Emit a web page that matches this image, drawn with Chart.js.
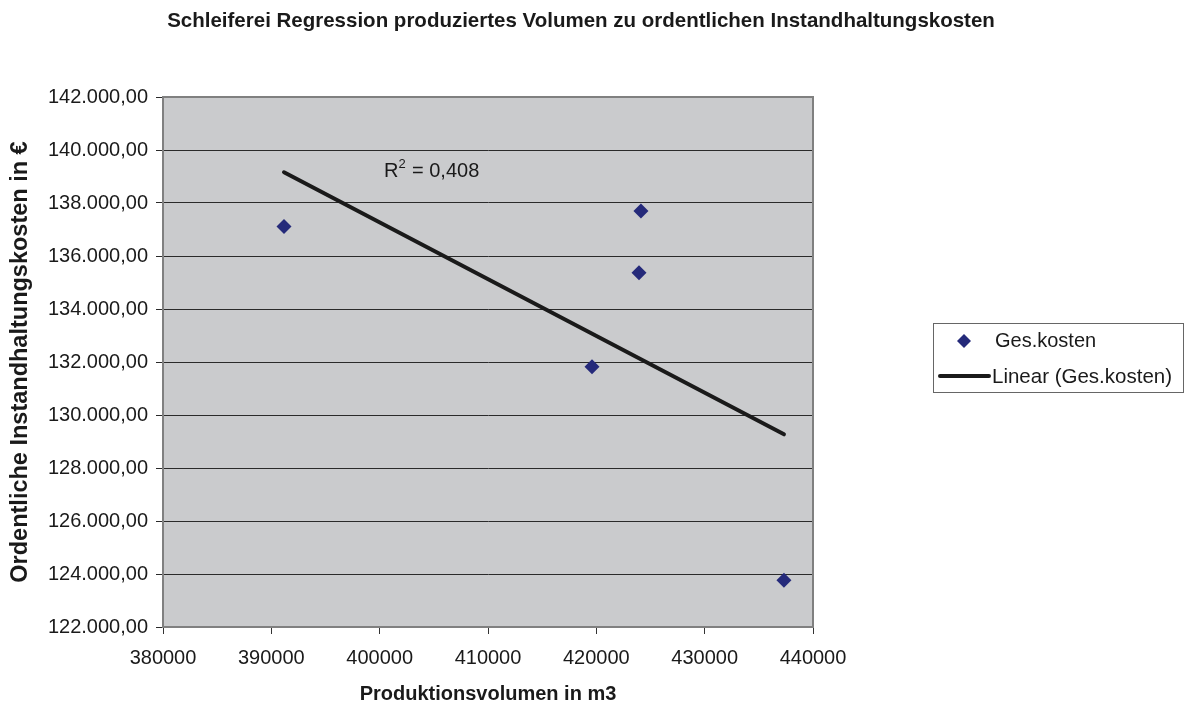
<!DOCTYPE html>
<html lang="de">
<head>
  <meta charset="UTF-8">
  <title>Schleiferei Regression</title>
  <script src="https://cdn.jsdelivr.net/npm/chart.js"></script>
  <style>
    body { margin: 0; background: #fff; }
    canvas { display: block; }
  </style>
</head>
<body>
  <canvas id="chart" width="1193" height="707"></canvas>

  <script>
    // values
    const volumen = [391170, 424120, 423940, 419600, 437320];
    const kosten = [137110, 137700, 135370, 131820, 123760];
    // trend line end points (as drawn by the spreadsheet)
    const trendX = [391170, 437320];
    const trendY = [139160, 129270];
    const rSquared = '0,408';
    const chartTitle = 'Schleiferei Regression produziertes Volumen zu ordentlichen Instandhaltungskosten';

    const FONT = "'Liberation Sans', Arial, sans-serif";
    const TEXT = '#1a1a1a';

    function deFormat(v) {
      const parts = v.toFixed(2).split('.');
      const intPart = parts[0].replace(/\B(?=(\d{3})+(?!\d))/g, '.');
      return intPart + ',' + parts[1];
    }

    // grey plot background + frame
    const plotBg = {
      id: 'plotBg',
      beforeDraw(chart) {
        const { ctx, chartArea: a } = chart;
        ctx.save();
        ctx.fillStyle = '#cacbcd';
        ctx.fillRect(a.left, a.top, a.right - a.left, a.bottom - a.top);
        ctx.restore();
      },
      beforeDatasetsDraw(chart) {
        const { ctx, chartArea: a } = chart;
        ctx.save();
        ctx.strokeStyle = '#808080';
        ctx.lineWidth = 2;
        ctx.strokeRect(a.left, a.top, a.right - a.left, a.bottom - a.top);
        ctx.restore();
      }
    };

    // title, R² label and legend box
    const extras = {
      id: 'extras',
      afterDraw(chart) {
        const { ctx, scales } = chart;
        ctx.save();
        ctx.fillStyle = TEXT;
        ctx.textAlign = 'center';
        ctx.textBaseline = 'middle';
        ctx.font = 'bold 20.5px ' + FONT;
        ctx.fillText(chartTitle, 581, 21);

        ctx.textAlign = 'left';
        ctx.textBaseline = 'alphabetic';
        ctx.font = '20px ' + FONT;
        const rx = scales.x.getPixelForValue(400400);
        const ry = scales.y.getPixelForValue(139000);
        ctx.fillText('R', rx, ry);
        const rw = ctx.measureText('R').width;
        ctx.font = '13px ' + FONT;
        ctx.fillText('2', rx + rw, ry - 9);
        ctx.font = '20px ' + FONT;
        ctx.fillText(' = ' + rSquared, rx + rw + 8, ry);

        // legend
        const lx = 933, ly = 323, lw = 250, lh = 69;
        ctx.fillStyle = '#fff';
        ctx.fillRect(lx, ly, lw, lh);
        ctx.strokeStyle = '#666';
        ctx.lineWidth = 1;
        ctx.strokeRect(lx + 0.5, ly + 0.5, lw, lh);

        ctx.fillStyle = '#252a7a';
        ctx.beginPath();
        ctx.moveTo(964, 334); ctx.lineTo(971, 341); ctx.lineTo(964, 348); ctx.lineTo(957, 341);
        ctx.closePath();
        ctx.fill();

        ctx.strokeStyle = TEXT;
        ctx.lineWidth = 4;
        ctx.lineCap = 'round';
        ctx.beginPath();
        ctx.moveTo(940, 376); ctx.lineTo(989, 376);
        ctx.stroke();

        ctx.fillStyle = TEXT;
        ctx.font = '20px ' + FONT;
        ctx.textBaseline = 'middle';
        ctx.fillText(chart.data.datasets[0].label, 995, 341);
        ctx.font = '20.5px ' + FONT;
        ctx.fillText(chart.data.datasets[1].label, 992, 377);
        ctx.restore();
      }
    };

    const ctx = document.getElementById('chart').getContext('2d');
    new Chart(ctx, {
      type: 'scatter',
      data: {
        datasets: [
          {
            label: 'Ges.kosten',
            data: volumen.map((x, i) => ({ x: x, y: kosten[i] })),
            pointStyle: 'rectRot',
            pointRadius: 7.5,
            pointHoverRadius: 7.5,
            backgroundColor: '#252a7a',
            borderColor: '#252a7a',
            borderWidth: 0,
            order: 1
          },
          {
            label: 'Linear (Ges.kosten)',
            type: 'line',
            data: trendX.map((x, i) => ({ x: x, y: trendY[i] })),
            borderColor: TEXT,
            borderWidth: 4,
            borderCapStyle: 'round',
            pointRadius: 0,
            fill: false,
            order: 2
          }
        ]
      },
      options: {
        responsive: false,
        animation: false,
        layout: { padding: { top: 97, right: 380, bottom: 0, left: 0 } },
        plugins: {
          legend: { display: false },
          tooltip: { enabled: false },
          title: { display: false }
        },
        scales: {
          x: {
            type: 'linear',
            min: 380000,
            max: 440000,
            afterFit(s) { s.height = 80; },
            ticks: {
              stepSize: 10000,
              color: TEXT,
              padding: 12,
              font: { family: FONT, size: 20 },
              callback: v => String(v)
            },
            grid: {
              drawOnChartArea: false,
              drawTicks: true,
              tickLength: 7,
              color: '#333'
            },
            border: { color: '#333', width: 1 },
            title: {
              display: true,
              text: 'Produktionsvolumen in m3',
              color: TEXT,
              font: { family: FONT, size: 20, weight: 'bold' },
              padding: { top: 4, bottom: 1 }
            }
          },
          y: {
            min: 122000,
            max: 142000,
            afterFit(s) { s.width = 163; },
            ticks: {
              stepSize: 2000,
              color: TEXT,
              padding: 8,
              font: { family: FONT, size: 20 },
              callback: v => deFormat(v)
            },
            grid: {
              color: '#2a2a2a',
              lineWidth: 1,
              drawTicks: true,
              tickLength: 7
            },
            border: { color: '#333', width: 1 },
            title: {
              display: true,
              text: 'Ordentliche Instandhaltungskosten in €',
              color: TEXT,
              font: { family: FONT, size: 23.5, weight: 'bold' },
              padding: { top: 6, bottom: 0 }
            }
          }
        }
      },
      plugins: [plotBg, extras]
    });
  </script>
</body>
</html>
